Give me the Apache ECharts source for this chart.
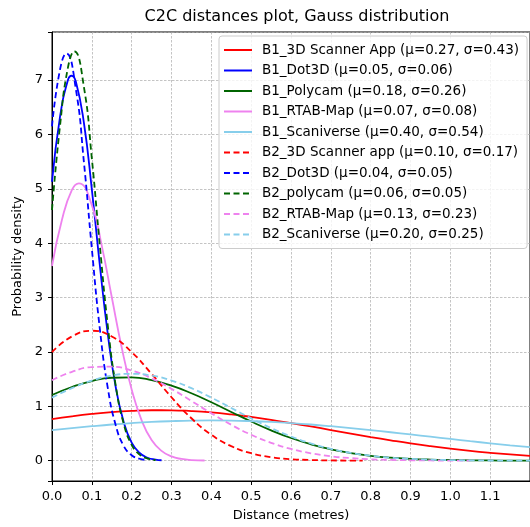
<!DOCTYPE html>
<html>
<head>
<meta charset="utf-8">
<title>C2C distances plot</title>
<script src="https://cdn.jsdelivr.net/npm/echarts@6/dist/echarts.min.js"></script>
<style>
  html, body { margin: 0; padding: 0; background: #fff; }
  #main { width: 530px; height: 527px; }
</style>
</head>
<body>
<div id="main"></div>
<script>
// x positions (metres)
var xBroad = [0, 0.05, 0.1, 0.15, 0.2, 0.25, 0.3, 0.35, 0.4, 0.45, 0.5, 0.55, 0.6,
    0.65, 0.7, 0.75, 0.8, 0.85, 0.9, 0.95, 1.0, 1.05, 1.1, 1.15, 1.2];
var xRtabB2 = [0, 0.05, 0.1, 0.15, 0.2, 0.25, 0.3, 0.35, 0.4, 0.45, 0.5, 0.55, 0.6,
    0.65, 0.7, 0.75, 0.8, 0.85, 0.9, 0.95, 1.0, 1.05];
var xScannerB2 = [0, 0.05, 0.1, 0.15, 0.2, 0.25, 0.3, 0.35, 0.4, 0.45, 0.5, 0.55, 0.6,
    0.65, 0.7, 0.75, 0.78];
var xDotB1 = [0, 0.02, 0.04, 0.049, 0.06, 0.08, 0.1, 0.12, 0.14, 0.16, 0.18, 0.2, 0.22, 0.24, 0.26, 0.275];
var xDotB2 = [0, 0.02, 0.036, 0.06, 0.08, 0.1, 0.12, 0.14, 0.16, 0.18, 0.2, 0.22, 0.232];
var xPolyB2 = [0, 0.02, 0.04, 0.056, 0.08, 0.1, 0.12, 0.14, 0.16, 0.18, 0.2, 0.22, 0.24, 0.26];
var xRtabB1 = [0, 0.025, 0.05, 0.0675, 0.1, 0.125, 0.15, 0.175, 0.2, 0.225, 0.25, 0.275,
    0.3, 0.325, 0.35, 0.383];

// probability density values
var b1Scanner = [0.762, 0.814, 0.858, 0.893, 0.916, 0.927, 0.926, 0.912, 0.887, 0.850, 0.804, 0.751,
    0.691, 0.628, 0.563, 0.498, 0.434, 0.374, 0.317, 0.266, 0.220, 0.179, 0.144, 0.114, 0.089];
var b1Dot3d = [5.13, 6.32, 7.00, 7.08, 6.97, 6.22, 4.99, 3.60, 2.33, 1.35, 0.71, 0.33, 0.14, 0.053, 0.018, 0.007];
var b1Polycam = [1.208, 1.354, 1.464, 1.524, 1.530, 1.480, 1.379, 1.239, 1.073, 0.895, 0.719, 0.557,
    0.416, 0.300, 0.208, 0.139, 0.089, 0.055, 0.033, 0.019, 0.011, 0.006, 0.003, 0.001, 0.001];
var b1Rtab = [3.58, 4.43, 4.98, 5.10, 4.70, 3.95, 3.01, 2.08, 1.31, 0.74, 0.38, 0.18, 0.077, 0.030, 0.010, 0.002];
var b1Scaniverse = [0.562, 0.599, 0.633, 0.664, 0.690, 0.711, 0.726, 0.736, 0.739, 0.736, 0.726, 0.711,
    0.690, 0.664, 0.633, 0.599, 0.562, 0.522, 0.481, 0.440, 0.399, 0.358, 0.319, 0.282, 0.247];
var b2Scanner = [1.997, 2.284, 2.389, 2.284, 1.997, 1.596, 1.166, 0.779, 0.476, 0.266, 0.136, 0.063,
    0.027, 0.011, 0.004, 0.001, 0.0005];
var b2Dot3d = [6.15, 7.19, 7.49, 6.83, 5.50, 3.90, 2.43, 1.34, 0.65, 0.27, 0.10, 0.034, 0.016];
var b2Polycam = [4.61, 6.15, 7.23, 7.53, 6.88, 5.56, 3.96, 2.49, 1.38, 0.68, 0.29, 0.11, 0.037, 0.011];
var b2Rtab = [1.479, 1.633, 1.720, 1.728, 1.656, 1.514, 1.320, 1.098, 0.871, 0.659, 0.476, 0.328,
    0.215, 0.135, 0.080, 0.046, 0.025, 0.013, 0.006, 0.003, 0.001, 0.0006];
var b2Scaniverse = [1.159, 1.333, 1.473, 1.564, 1.596, 1.564, 1.473, 1.333, 1.159, 0.968, 0.777, 0.599,
    0.444, 0.316, 0.216, 0.142, 0.090, 0.054, 0.032, 0.018, 0.010, 0.005, 0.002, 0.001, 0.0005];

var FONT = 'DejaVu Sans';
var DASH = [6, 3.5];

function pairs(xs, ys) {
    var out = [];
    for (var i = 0; i < xs.length; i++) {
        out.push([xs[i], ys[i]]);
    }
    return out;
}

function curve(name, xs, ys, color, dashed) {
    return {
        name: name,
        type: 'line',
        data: pairs(xs, ys),
        smooth: 0.5,
        symbol: 'none',
        showSymbol: false,
        color: color,
        lineStyle: { color: color, width: 1.8, type: dashed ? DASH : 'solid' },
        emphasis: { disabled: true }
    };
}

var seriesList = [
    curve('B1_3D Scanner App (μ=0.27, σ=0.43)', xBroad, b1Scanner, '#ff0000', false),
    curve('B1_Dot3D (μ=0.05, σ=0.06)', xDotB1, b1Dot3d, '#0000ff', false),
    curve('B1_Polycam (μ=0.18, σ=0.26)', xBroad, b1Polycam, '#006400', false),
    curve('B1_RTAB-Map (μ=0.07, σ=0.08)', xRtabB1, b1Rtab, '#ee82ee', false),
    curve('B1_Scaniverse (μ=0.40, σ=0.54)', xBroad, b1Scaniverse, '#87ceeb', false),
    curve('B2_3D Scanner app (μ=0.10, σ=0.17)', xScannerB2, b2Scanner, '#ff0000', true),
    curve('B2_Dot3D (μ=0.04, σ=0.05)', xDotB2, b2Dot3d, '#0000ff', true),
    curve('B2_polycam (μ=0.06, σ=0.05)', xPolyB2, b2Polycam, '#006400', true),
    curve('B2_RTAB-Map (μ=0.13, σ=0.23)', xRtabB2, b2Rtab, '#ee82ee', true),
    curve('B2_Scaniverse (μ=0.20, σ=0.25)', xBroad, b2Scaniverse, '#87ceeb', true)
];

var myChart = echarts.init(document.getElementById('main'));

var option = {
    animation: false,
    backgroundColor: '#fff',
    textStyle: { fontFamily: FONT },
    title: {
        text: 'C2C distances plot, Gauss distribution',
        left: 292,
        textAlign: 'center',
        top: 4,
        textStyle: { fontFamily: FONT, fontSize: 16, fontWeight: 'normal', color: '#000' }
    },
    grid: {
        left: 52, right: -2, top: 32, bottom: 45,
        show: true, borderColor: '#000', borderWidth: 1, backgroundColor: 'transparent'
    },
    legend: {
        orient: 'vertical',
        left: 219,
        top: 36,
        padding: [7, 8, 7, 4],
        itemWidth: 28,
        itemHeight: 12,
        itemGap: 6.5,
        backgroundColor: 'rgba(255,255,255,0.8)',
        borderColor: '#cccccc',
        borderWidth: 1,
        borderRadius: 3,
        selectedMode: false,
        itemStyle: { opacity: 0 },
        textStyle: { fontFamily: FONT, fontSize: 13.5, color: '#000', padding: [0, 0, 0, 5] },
        data: seriesList.map(function (s) { return s.name; })
    },
    xAxis: {
        type: 'value',
        min: 0,
        max: 1.2,
        minInterval: 0.1,
        maxInterval: 0.1,
        name: 'Distance (metres)',
        nameLocation: 'middle',
        nameGap: 28,
        nameTextStyle: { fontFamily: FONT, fontSize: 13, color: '#000' },
        axisLine: { show: true, onZero: false, lineStyle: { color: '#000', width: 1 } },
        axisTick: { show: true, length: 4, lineStyle: { color: '#000' } },
        axisLabel: {
            fontFamily: FONT, fontSize: 13, color: '#000', margin: 9, showMaxLabel: false,
            formatter: function (v) { return v.toFixed(1); }
        },
        splitLine: { show: true, lineStyle: { color: '#aaaaaa', width: 0.7, type: [2.5, 1.5] } }
    },
    yAxis: {
        type: 'value',
        min: -0.375,
        max: 7.885,
        minInterval: 1,
        maxInterval: 1,
        name: 'Probability density',
        nameLocation: 'middle',
        nameGap: 25,
        nameTextStyle: { fontFamily: FONT, fontSize: 13, color: '#000' },
        axisLine: { show: true, onZero: false, lineStyle: { color: '#000', width: 1 } },
        axisTick: { show: true, length: 4, lineStyle: { color: '#000' } },
        axisLabel: {
            fontFamily: FONT, fontSize: 13, color: '#000', margin: 9,
            formatter: function (v) {
                return Math.abs(v - Math.round(v)) < 1e-9 ? String(Math.round(v)) : '';
            }
        },
        splitLine: { show: true, lineStyle: { color: '#aaaaaa', width: 0.7, type: [2.5, 1.5] } }
    },
    series: seriesList
};

myChart.setOption(option);
</script>
</body>
</html>
